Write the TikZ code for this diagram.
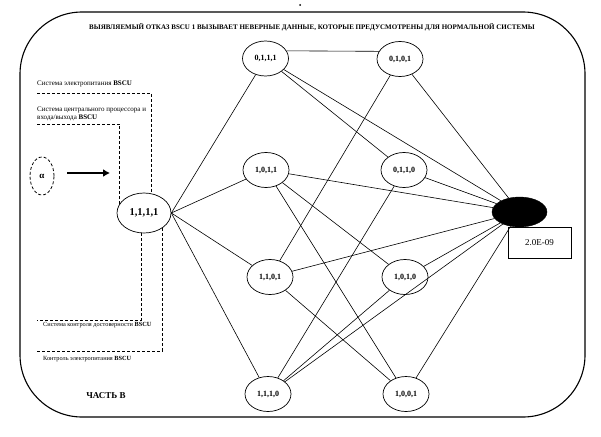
\documentclass[tikz,border=0pt]{standalone}
\usepackage{fontspec}
\setmainfont{Liberation Serif}
\usetikzlibrary{shapes.geometric,arrows.meta}

\begin{document}
\begin{tikzpicture}[x=1pt,y=-1pt,
    state/.style={draw,ellipse,line width=0.7pt,minimum width=46pt,minimum height=35pt,inner sep=0pt,font=\fontsize{8}{9}\selectfont\bfseries},
    link/.style={line width=0.6pt},
    dline/.style={line width=0.8pt,dash pattern=on 3pt off 2pt},
    lbl/.style={anchor=west,inner sep=0pt,align=left,font=\fontsize{7}{8}\selectfont},
    smalllbl/.style={anchor=west,inner sep=0pt,font=\fontsize{6.3}{7}\selectfont}]
    \useasboundingbox (0,0) rectangle (601,436);
    \draw[line width=1.1pt,rounded corners=62pt] (20,12) rectangle (585,417);
    \fill (300,5) circle (1pt);
    \node[inner sep=0pt,font=\fontsize{7}{8}\selectfont\bfseries] (title) at (312,27) {ВЫЯВЛЯЕМЫЙ ОТКАЗ BSCU 1 ВЫЗЫВАЕТ НЕВЕРНЫЕ ДАННЫЕ, КОТОРЫЕ ПРЕДУСМОТРЕНЫ ДЛЯ НОРМАЛЬНОЙ СИСТЕМЫ};
    \node[state,minimum width=54pt,minimum height=40pt,font=\fontsize{10.5}{12}\selectfont\bfseries] (n1111) at (144,213) {1,1,1,1};
    \node[state] (n0111) at (265.5,58.5) {0,1,1,1};
    \node[state] (n1011) at (266,170) {1,0,1,1};
    \node[state] (n1101) at (270,277) {1,1,0,1};
    \node[state] (n1110) at (268,394) {1,1,1,0};
    \node[state] (n0101) at (400,59) {0,1,0,1};
    \node[state] (n0110) at (404,170) {0,1,1,0};
    \node[state] (n1010) at (405,277) {1,0,1,0};
    \node[state] (n1001) at (406,394) {1,0,0,1};
    \node[draw,ellipse,fill=black,minimum width=55pt,minimum height=30pt,inner sep=0pt] (fail) at (519.5,212) {};
    \node[draw,line width=0.7pt,minimum width=63pt,minimum height=31pt,inner sep=0pt,anchor=north,font=\fontsize{9}{10}\selectfont] (prob) at ([xshift=20pt]fail.south) {2.0E-09};
    \foreach \n in {n0111,n1011,n1101,n1110}
        \draw[link] (n1111.east) -- (\n);
    \draw[link] (n0111.20) -- (n0101.160);
    \draw[link] (n0111) -- (n0110);
    \draw[link] (n1011) -- (n1010);
    \draw[link] (n1011) -- (n1001);
    \draw[link] (n1101) -- (n0101);
    \draw[link] (n1101) -- (n1001);
    \draw[link] (n1110) -- (n0110);
    \draw[link] (n1110) -- (n1010);
    \foreach \n in {n0111,n1011,n1101,n1110,n0101,n0110,n1010,n1001}
        \draw[link] (\n) -- (fail);
    \node[draw,ellipse,dline,minimum width=24pt,minimum height=38pt,inner sep=0pt,font=\fontsize{9}{10}\selectfont\bfseries] (alpha) at (42,176) {α};
    \coordinate (tip) at (110,173);
    \draw[-{Latex[length=7pt,width=8pt]},line width=1.8pt] ([xshift=13pt,yshift=3pt]alpha.east) -- (tip);
    \node[lbl] (power) at (37,84) {Система электропитания \textbf{BSCU}};
    \node[lbl] (cpu) at (37,114) {Система центрального процессора и\\входа/выхода \textbf{BSCU}};
    \node[smalllbl] (check) at (43,325) {Система контроля достоверности \textbf{BSCU}};
    \node[smalllbl] (supply) at (43,359) {Контроль электропитания \textbf{BSCU}};
    \draw[dline] (37,93) -| (n1111.70);
    \draw[dline] (37,124) -| (n1111.159);
    \draw[dline] (n1111.262) |- (37,320);
    \draw[dline] (n1111.320) |- (37,351);
    \node[font=\fontsize{9}{10}\selectfont\bfseries] (part) at (106,396) {ЧАСТЬ В};
\end{tikzpicture}
\end{document}
